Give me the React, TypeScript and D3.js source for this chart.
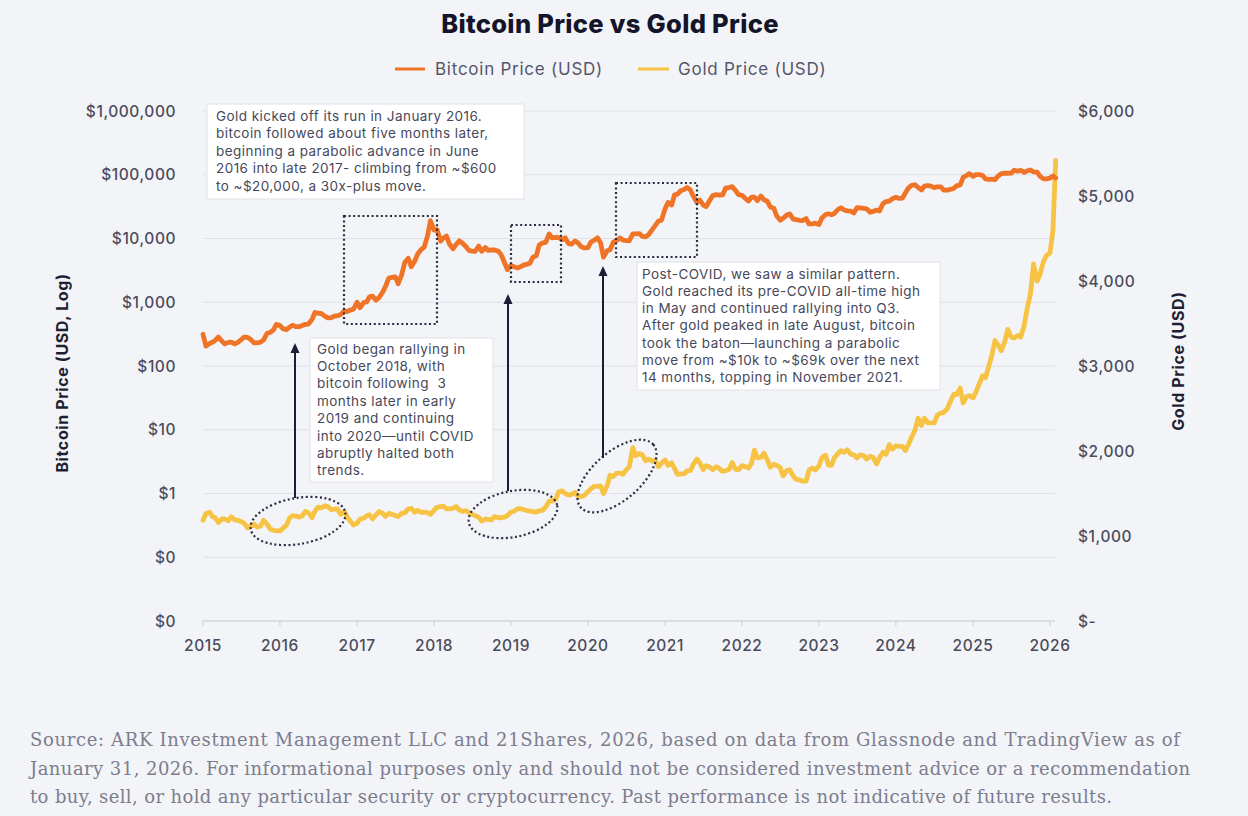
import React from 'react';
import * as d3 from 'd3';

const W = 1248;
const H = 816;

// Half-monthly samples (1st and 15th of each month), starting January 2015
const startYear = 2015;
const btcValues: number[] = [
  // 2015
  315, 205, 225, 235, 255, 285, 245, 222, 235, 237, 222, 235, 258, 285, 280, 262, 230, 230, 237, 255, 325, 335, 370, 450,
  // 2016
  430, 385, 372, 405, 435, 415, 415, 430, 450, 455, 535, 690, 675, 665, 605, 570, 575, 608, 615, 640, 730, 715, 755, 780,
  // 2017
  1000, 820, 990, 1010, 1220, 1250, 1080, 1180, 1420, 1750, 2400, 2450, 2500, 1950, 2730, 4200, 4900, 3600, 4400, 5700, 6700, 7300, 10900, 19000,
  // 2018
  13500, 13800, 9100, 10200, 10900, 8200, 6900, 8000, 9200, 8500, 7500, 6500, 6350, 6300, 7600, 6300, 7200, 6500, 6600, 6600, 6350, 5600, 4200, 3250,
  // 2019
  3800, 3600, 3450, 3600, 3820, 3930, 4100, 5100, 5350, 7900, 8550, 8700, 11800, 10200, 10400, 10300, 9600, 10300, 8300, 8150, 9150, 8500, 7400, 7100,
  // 2020
  7200, 8800, 9400, 10250, 8550, 5100, 6400, 6650, 8800, 9300, 10200, 9400, 9230, 9200, 11800, 11850, 11950, 10800, 10600, 11500, 13800, 15900, 18800, 19400,
  // 2021
  29300, 36800, 33500, 48500, 49600, 56000, 58800, 63200, 57800, 46400, 36700, 40200, 33500, 31800, 39900, 47000, 48800, 48100, 48200, 61500, 63000, 65000, 57000, 48900,
  // 2022
  47700, 43100, 38700, 44500, 44400, 39300, 46300, 40500, 38500, 31300, 29800, 22500, 19300, 20800, 23300, 24300, 20100, 19700, 19300, 19100, 20500, 16900, 17000, 17400,
  // 2023
  16600, 20900, 23700, 24400, 23600, 24700, 28500, 30300, 28000, 27100, 26800, 25100, 30600, 30300, 29700, 29200, 25800, 26600, 27900, 27100, 35400, 37900, 38700, 42000,
  // 2024
  44200, 42500, 43000, 51900, 62400, 67900, 69700, 63400, 57700, 66200, 67800, 66200, 62700, 64700, 64600, 57600, 57300, 59100, 60800, 67000, 69500, 91000, 97300, 104300,
  // 2025
  94400, 100500, 100600, 97500, 86000, 84300, 85200, 83700, 96500, 103700, 105800, 105500, 105700, 117700, 113300, 117400, 109200, 115300, 118600, 110700, 110000, 94400, 86300, 86400,
  // 2026
  88700, 95500,
];
const goldValues: number[] = [
  // 2015
  1185, 1265, 1280, 1228, 1212, 1158, 1200, 1200, 1178, 1225, 1190, 1185, 1168, 1150, 1095, 1115, 1140, 1105, 1115, 1185, 1140, 1085, 1065, 1062,
  // 2016
  1060, 1090, 1128, 1210, 1240, 1235, 1222, 1235, 1290, 1275, 1215, 1290, 1340, 1330, 1355, 1345, 1310, 1318, 1315, 1255, 1288, 1225, 1170, 1130,
  // 2017
  1150, 1200, 1210, 1235, 1250, 1200, 1250, 1288, 1268, 1230, 1268, 1255, 1242, 1228, 1268, 1272, 1320, 1325, 1280, 1302, 1278, 1280, 1275, 1255,
  // 2018
  1303, 1338, 1345, 1350, 1318, 1318, 1325, 1348, 1305, 1290, 1298, 1278, 1252, 1240, 1220, 1175, 1200, 1195, 1190, 1228, 1215, 1215, 1222, 1240,
  // 2019
  1282, 1290, 1320, 1322, 1312, 1302, 1292, 1288, 1282, 1296, 1305, 1342, 1410, 1412, 1430, 1520, 1530, 1500, 1480, 1490, 1512, 1468, 1463, 1478,
  // 2020
  1520, 1555, 1585, 1585, 1590, 1500, 1590, 1715, 1700, 1740, 1740, 1725, 1780, 1810, 2040, 1945, 1968, 1955, 1885, 1905, 1880, 1890, 1815, 1855,
  // 2021
  1895, 1830, 1860, 1795, 1725, 1730, 1730, 1765, 1770, 1845, 1905, 1860, 1780, 1828, 1812, 1780, 1815, 1795, 1760, 1768, 1785, 1865, 1785, 1778,
  // 2022
  1828, 1818, 1800, 1855, 2010, 1920, 1925, 1975, 1895, 1810, 1845, 1830, 1805, 1708, 1770, 1780, 1705, 1665, 1660, 1645, 1645, 1775, 1800, 1778,
  // 2023
  1825, 1920, 1950, 1835, 1830, 1920, 1970, 2005, 1985, 2015, 1960, 1955, 1918, 1955, 1945, 1905, 1940, 1925, 1848, 1920, 1985, 1960, 2075, 2020,
  // 2024
  2062, 2055, 2055, 2005, 2080, 2160, 2250, 2385, 2300, 2385, 2330, 2330, 2330, 2420, 2445, 2455, 2500, 2580, 2665, 2665, 2740, 2565, 2640, 2650,
  // 2025
  2625, 2695, 2800, 2885, 2860, 2985, 3135, 3300, 3240, 3180, 3290, 3430, 3340, 3330, 3360, 3340, 3480, 3680, 3860, 4200, 4000, 4080, 4230, 4300,
  // 2026
  4330, 4600,
];
// Final observation (late January 2026)
const tailDates = ['2026-01-28'];
const btcTail = [89000];
const goldTail = [5420];

const yearTicks = [2015, 2016, 2017, 2018, 2019, 2020, 2021, 2022, 2023, 2024, 2025, 2026];
const leftTickValues = [1e6, 1e5, 1e4, 1e3, 100, 10, 1, 0.1, 0.01];
const leftTickLabels = ['$1,000,000', '$100,000', '$10,000', '$1,000', '$100', '$10', '$1', '$0', '$0'];
const rightTickValues = [6000, 5000, 4000, 3000, 2000, 1000, 0];
const rightTickLabels = ['$6,000', '$5,000', '$4,000', '$3,000', '$2,000', '$1,000', '$-'];

const note1Lines = [
  'Gold kicked off its run in January 2016.',
  'bitcoin followed about five months later,',
  'beginning a parabolic advance in June',
  '2016 into late 2017- climbing from ~$600',
  'to ~$20,000, a 30x-plus move.',
];
const note2Lines = [
  'Gold began rallying in',
  'October 2018, with',
  'bitcoin following  3',
  'months later in early',
  '2019 and continuing',
  'into 2020\u2014until COVID',
  'abruptly halted both',
  'trends.',
];
const note3Lines = [
  'Post-COVID, we saw a similar pattern.',
  'Gold reached its pre-COVID all-time high',
  'in May and continued rallying into Q3.',
  'After gold peaked in late August, bitcoin',
  'took the baton\u2014launching a parabolic',
  'move from ~$10k to ~$69k over the next',
  '14 months, topping in November 2021.',
];
const footerLines = [
  'Source: ARK Investment Management LLC and 21Shares, 2026, based on data from Glassnode and TradingView as of',
  'January 31, 2026. For informational purposes only and should not be considered investment advice or a recommendation',
  'to buy, sell, or hold any particular security or cryptocurrency. Past performance is not indicative of future results.',
];

const BTC_COLOR = '#EF7427';
const GOLD_COLOR = '#F7C344';
const INK = '#1d1e36';
const SANS = "Inter, 'Noto Sans', sans-serif";

function halfMonthDate(i: number): Date {
  const y = startYear + Math.floor(i / 24);
  const m = Math.floor((i % 24) / 2);
  return new Date(y, m, i % 2 ? 15 : 1);
}

type Pt = { date: Date; value: number };
function buildSeries(values: number[], tail: number[]): Pt[] {
  const pts = values.map((v, i) => ({ date: halfMonthDate(i), value: v }));
  tail.forEach((v, j) => pts.push({ date: new Date(tailDates[j] + 'T00:00:00'), value: v }));
  return pts;
}

const btcSeries = buildSeries(btcValues, btcTail);
const goldSeries = buildSeries(goldValues, goldTail);

const X0 = 203;
const X1 = 1050;
const YTOP = 111;
const YBOT = 621;
const GRID_RIGHT = 1055;

export default function App() {
  const x = d3.scaleTime().domain([new Date(2015, 0, 1), new Date(2026, 0, 1)]).range([X0, X1]);
  const yL = d3.scaleLog().domain([0.01, 1e6]).range([YBOT, YTOP]);
  const yR = d3.scaleLinear().domain([0, 6000]).range([YBOT, YTOP]);

  const btcLine = d3.line<Pt>().x((d) => x(d.date)).y((d) => yL(d.value)).curve(d3.curveLinear);
  const goldLine = d3.line<Pt>().x((d) => x(d.date)).y((d) => yR(d.value)).curve(d3.curveLinear);

  const dotted = { fill: 'none', stroke: '#2a2c46', strokeWidth: 2.2, strokeDasharray: '2 2.6' };

  const noteBox = (bx: number, by: number, bw: number, bh: number, lines: string[], tx: number, ty: number, lh: number) => (
    <g>
      <rect x={bx} y={by} width={bw} height={bh} fill="#ffffff" stroke="#e1e2ea" strokeWidth={1} />
      {lines.map((l, i) => (
        <text key={i} x={tx} y={ty + i * lh} fontFamily={SANS} fontSize={13.5} letterSpacing={0.45} fill="#47485a" style={{ whiteSpace: 'pre' }}>
          {l}
        </text>
      ))}
    </g>
  );

  const arrow = (ax: number, yFrom: number, yTip: number) => (
    <g>
      <line x1={ax} x2={ax} y1={yFrom} y2={yTip + 8} stroke={INK} strokeWidth={2} />
      <path d={`M${ax},${yTip} L${ax - 4.5},${yTip + 10} L${ax + 4.5},${yTip + 10} Z`} fill={INK} />
    </g>
  );

  const tickText = { fontFamily: SANS, fontWeight: 500, fontSize: 15.5, letterSpacing: 0.55, fill: '#4a4b5c' };

  return (
    <div style={{ position: 'absolute', left: 0, top: 0, width: W, height: H }}>
      <svg width={W} height={H} viewBox={`0 0 ${W} ${H}`} style={{ display: 'block' }}>
        <rect x={0} y={0} width={W} height={H} fill="#f3f4f7" />

        {/* Title */}
        <text x={610} y={33} textAnchor="middle" fontFamily={SANS} fontWeight={800} fontSize={25.5} letterSpacing={0.3} fill="#14142a">
          Bitcoin Price vs Gold Price
        </text>

        {/* Legend */}
        <line x1={395} x2={425} y1={69} y2={69} stroke={BTC_COLOR} strokeWidth={3} />
        <text x={435} y={75} fontFamily={SANS} fontSize={17} letterSpacing={0.75} fill="#55566a">Bitcoin Price (USD)</text>
        <line x1={638} x2={669} y1={69} y2={69} stroke={GOLD_COLOR} strokeWidth={3} />
        <text x={678} y={75} fontFamily={SANS} fontSize={17} letterSpacing={0.75} fill="#55566a">Gold Price (USD)</text>

        {/* Gridlines */}
        {leftTickValues.map((v, i) => (
          <line key={i} x1={X0} x2={GRID_RIGHT} y1={yL(v)} y2={yL(v)} stroke="#dfe0e8" strokeWidth={1} />
        ))}
        {/* X axis */}
        <line x1={X0} x2={GRID_RIGHT} y1={YBOT} y2={YBOT} stroke="#cdced9" strokeWidth={1} />
        {yearTicks.map((yr) => {
          const px = x(new Date(yr, 0, 1));
          return (
            <g key={yr}>
              <line x1={px} x2={px} y1={YBOT} y2={YBOT + 5} stroke="#cdced9" strokeWidth={1} />
              <text x={px} y={651} textAnchor="middle" {...tickText}>
                {yr}
              </text>
            </g>
          );
        })}

        {/* Left axis labels */}
        {leftTickValues.map((v, i) => (
          <text key={i} x={176} y={yL(v) + 5.5} textAnchor="end" {...tickText}>
            {leftTickLabels[i]}
          </text>
        ))}
        {/* Right axis labels */}
        {rightTickValues.map((v, i) => (
          <text key={i} x={1078} y={yR(v) + 5.5} {...tickText}>
            {rightTickLabels[i]}
          </text>
        ))}
        <text transform="translate(68,373) rotate(-90)" textAnchor="middle" fontFamily={SANS} fontWeight={700} fontSize={16} letterSpacing={0.6} fill="#1e1f33">
          Bitcoin Price (USD, Log)
        </text>
        <text transform="translate(1184,361) rotate(-90)" textAnchor="middle" fontFamily={SANS} fontWeight={700} fontSize={16} letterSpacing={0.6} fill="#1e1f33">
          Gold Price (USD)
        </text>

        {/* Series */}
        <path d={goldLine(goldSeries) || ''} fill="none" stroke={GOLD_COLOR} strokeWidth={4.8} strokeLinejoin="round" strokeLinecap="round" />
        <path d={btcLine(btcSeries) || ''} fill="none" stroke={BTC_COLOR} strokeWidth={4.8} strokeLinejoin="round" strokeLinecap="round" />

        {/* Dotted highlight boxes on bitcoin */}
        <rect x={344} y={216} width={93} height={108} {...dotted} />
        <rect x={511} y={225} width={50} height={57} {...dotted} />
        <rect x={616} y={183} width={81} height={74} {...dotted} />

        {/* Dotted ellipses on gold */}
        <ellipse cx={298} cy={521} rx={48} ry={23} transform="rotate(-10 298 521)" {...dotted} />
        <ellipse cx={513} cy={514} rx={45} ry={23} transform="rotate(-11 513 514)" {...dotted} />
        <ellipse cx={617} cy={476} rx={48} ry={24} transform="rotate(-41 617 476)" {...dotted} />

        {/* Arrows */}
        {arrow(295, 498, 343)}
        {arrow(508, 491, 294)}
        {arrow(603, 458, 266)}

        {/* Annotation boxes */}
        {noteBox(207, 104, 317, 95, note1Lines, 216, 120.5, 17.6)}
        {noteBox(310, 338, 183, 144, note2Lines, 317, 353.5, 17.4)}
        {noteBox(637, 262, 303, 128, note3Lines, 642, 278.5, 17.3)}

        {/* Footer */}
        {footerLines.map((l, i) => (
          <text
            key={i}
            x={30}
            y={746 + i * 28.6}
            fontFamily="'DejaVu Serif', 'Liberation Serif', serif"
            fontSize={18}
            fill="#7c7d8e"
            textLength={[1150, 1160, 1082][i]}
            lengthAdjust="spacing"
          >
            {l}
          </text>
        ))}
      </svg>
    </div>
  );
}
